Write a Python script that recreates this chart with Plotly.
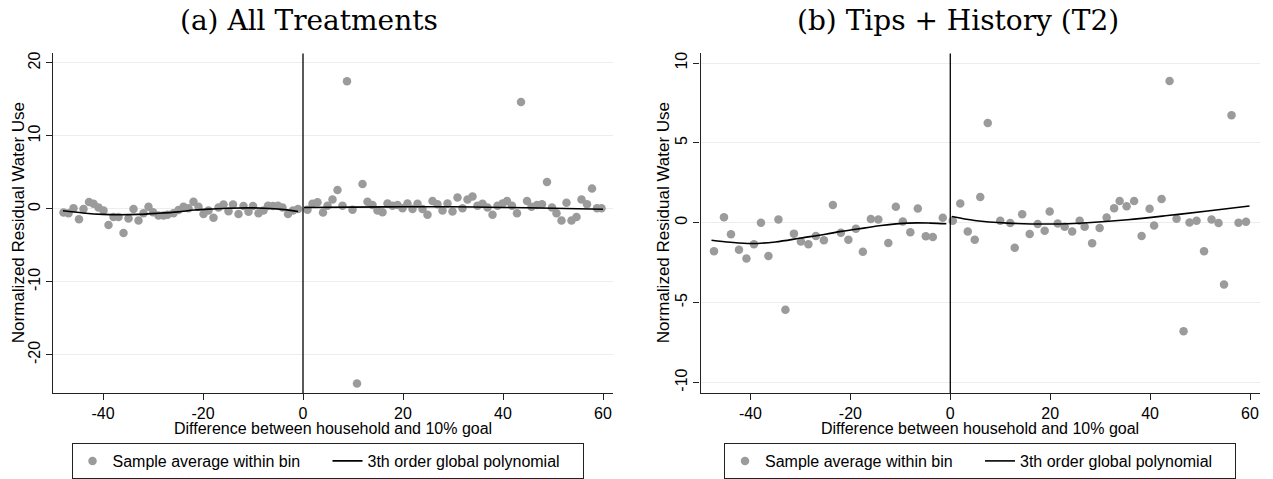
import plotly.graph_objects as go

# ---------------- data: panel (a) All Treatments ----------------
a_x = [-47.9, -46.9, -45.9, -44.8, -43.9, -42.8, -41.9, -40.9, -39.9, -38.9,
       -37.9, -36.9, -35.9, -34.9, -33.9, -32.9, -31.9, -30.9, -30.0, -28.9,
       -27.9, -27.1, -25.9, -24.9, -23.9, -22.9, -21.9, -20.9, -19.9, -18.9,
       -17.9, -16.9, -15.9, -14.9, -14.0, -12.9, -11.9, -10.9, -10.0, -8.9,
       -7.9, -7.0, -6.0, -5.0, -4.1, -3.0, -2.0, -1.0,
       0.9, 1.9, 2.9, 4.0, 4.9, 5.9, 6.9, 7.9, 8.8, 9.9,
       10.8, 11.9, 12.9, 13.9, 14.9, 15.9, 16.9, 17.9, 18.9, 19.9,
       20.9, 21.9, 22.9, 23.9, 24.9, 25.9, 26.9, 27.9, 28.9, 29.9,
       30.9, 31.9, 32.9, 33.9, 34.9, 35.9, 36.9, 37.9, 38.9, 39.9,
       40.8, 41.8, 42.8, 43.6, 44.8, 45.7, 46.8, 47.8, 48.8, 49.8,
       50.7, 51.7, 52.7, 53.7, 54.7, 55.7, 56.8, 57.8, 58.8, 59.7]
a_y = [-0.5, -0.6, 0.1, -1.4, 0.0, 0.95, 0.7, 0.2, -0.2, -2.2,
       -1.1, -1.1, -3.3, -1.3, 0.0, -1.6, -0.6, 0.3, -0.45, -0.9,
       -0.9, -0.8, -0.6, -0.15, 0.3, 0.1, 1.0, 0.3, -0.7, -0.2,
       -1.2, 0.2, 0.6, -0.3, 0.6, -0.7, 0.4, -0.4, 0.4, -0.6,
       -0.2, 0.45, 0.4, 0.45, 0.2, -0.7, -0.2, 0.0,
       -0.1, 0.7, 0.9, -0.5, 0.45, 1.3, 2.6, 0.45, 17.5, -0.1,
       -23.9, 3.4, 1.0, 0.55, -0.2, -0.45, 0.75, 0.45, 0.55, 0.1,
       0.75, 0.0, 0.7, 0.0, -0.8, 1.1, 0.65, -0.2, 0.75, -0.35,
       1.55, 0.1, 1.3, 1.7, 0.45, 0.7, 0.2, -0.8, 0.45, 0.75,
       1.1, 0.45, -0.6, 14.65, 1.1, 0.3, 0.55, 0.65, 3.7, 0.2,
       -0.6, -1.6, 0.85, -1.6, -1.1, 1.3, 0.65, 2.8, 0.1, 0.1]
# fitted 3rd order polynomial (left / right of cutoff)
a_fit_left_x = [-48, -44, -40, -37, -33, -29, -25, -21.7, -18, -15, -11, -7.7, -3.7, -1]
a_fit_left_y = [-0.25, -0.55, -0.75, -0.8, -0.75, -0.6, -0.4, -0.15, 0.0, 0.1, 0.15, 0.1, -0.1, -0.35]
a_fit_right_x = [0.2, 10, 20, 30, 40, 50, 60]
a_fit_right_y = [0.2, 0.25, 0.3, 0.3, 0.2, 0.1, -0.05]

# ---------------- data: panel (b) Tips + History (T2) ----------------
b_x = [-47.3, -45.3, -43.9, -42.3, -40.8, -39.3, -37.9, -36.4, -34.4, -33.0,
       -31.3, -29.9, -28.4, -26.9, -25.3, -23.5, -21.9, -20.4, -18.9, -17.5,
       -15.9, -14.4, -12.4, -10.9, -9.5, -8.0, -6.5, -4.9, -3.5, -1.5,
       0.5, 2.0, 3.5, 4.9, 6.0, 7.5, 10.0, 12.0, 12.9, 14.4,
       15.9, 17.5, 18.9, 19.9, 21.5, 22.9, 24.4, 25.9, 26.9, 28.4,
       29.9, 31.3, 32.8, 33.9, 35.3, 36.8, 38.3, 39.9, 40.8, 42.3,
       43.9, 45.3, 46.7, 47.9, 49.3, 50.8, 52.3, 53.7, 54.8, 56.3,
       57.7, 59.2]
b_y = [-1.78, 0.35, -0.72, -1.69, -2.23, -1.34, 0.0, -2.08, 0.2, -5.45,
       -0.68, -1.18, -1.34, -0.83, -1.09, 1.11, -0.62, -1.07, -0.37, -1.82,
       0.23, 0.21, -1.26, 1.01, 0.08, -0.6, 0.89, -0.85, -0.89, 0.31,
       0.12, 1.2, -0.54, -1.07, 1.61, 6.24, 0.12, -0.02, -1.57, 0.54,
       -0.7, -0.08, -0.5, 0.7, -0.04, -0.25, -0.54, 0.12, -0.25, -1.28,
       -0.33, 0.33, 0.91, 1.36, 1.03, 1.36, -0.83, 0.87, -0.17, 1.49,
       8.87, 0.25, -6.79, 0.02, 0.12, -1.78, 0.21, -0.02, -3.86, 6.73,
       0.0, 0.06]
b_fit_left_x = [-47.8, -44, -39.8, -35, -29.8, -25, -21.8, -17, -13.8, -8.5, -4, -0.8]
b_fit_left_y = [-1.09, -1.22, -1.3, -1.2, -0.95, -0.72, -0.54, -0.32, -0.17, -0.02, -0.02, -0.06]
b_fit_right_x = [0.3, 4.9, 11.5, 20.2, 28.2, 35.5, 43.5, 51.5, 59.9]
b_fit_right_y = [0.39, 0.14, -0.02, -0.08, 0.02, 0.19, 0.45, 0.74, 1.05]

titles = ["(a) All Treatments", "(b) Tips + History (T2)"]
x_title = "Difference between household and 10% goal"
y_title = "Normalized Residual Water Use"
x_ticks = [-40, -20, 0, 20, 40, 60]
a_yticks = [-20, -10, 0, 10, 20]
b_yticks = [-10, -5, 0, 5, 10]
legend_names = ["Sample average within bin", "3th order global polynomial"]

# ---------------- styling ----------------
W, H = 1273, 479
FONT = "Liberation Sans, Arial, Helvetica, sans-serif"
DOT = "#9b9b9b"
GRID = "#e7eff1"
ydom = [1 - 395 / H, 1 - 52 / H]
xdom1 = [53 / W, 613 / W]
xdom2 = [700.5 / W, 1260 / W]

fig = go.Figure()

def add_panel(xs, ys, fl_x, fl_y, fr_x, fr_y, xa, ya, leg):
    fig.add_trace(go.Scatter(x=xs, y=ys, mode="markers", name=legend_names[0],
                             marker=dict(color=DOT, size=8.5, line=dict(width=0)),
                             xaxis=xa, yaxis=ya, legend=leg, showlegend=True))
    fig.add_trace(go.Scatter(x=fl_x + [None] + fr_x, y=fl_y + [None] + fr_y,
                             mode="lines", name=legend_names[1],
                             line=dict(color="black", width=1.6, shape="spline"),
                             connectgaps=False,
                             xaxis=xa, yaxis=ya, legend=leg, showlegend=True))

add_panel(a_x, a_y, a_fit_left_x, a_fit_left_y, a_fit_right_x, a_fit_right_y, "x", "y", "legend")
add_panel(b_x, b_y, b_fit_left_x, b_fit_left_y, b_fit_right_x, b_fit_right_y, "x2", "y2", "legend2")

def labels(vals):
    return [str(v) for v in vals]  # plain hyphen minus, as in the original

xcommon = dict(range=[-50, 62], tickvals=x_ticks, ticktext=labels(x_ticks),
               showgrid=False, zeroline=False,
               showline=True, linecolor="#222", linewidth=1.2, ticks="outside",
               ticklen=6, tickcolor="#222", tickfont=dict(family=FONT, size=16, color="black"))
ycommon = dict(showgrid=True, gridcolor=GRID, gridwidth=1, zeroline=False,
               showline=True, linecolor="#222", linewidth=1.2, ticks="outside",
               ticklen=6, tickcolor="#222", tickangle=-90,
               tickfont=dict(family=FONT, size=16, color="black"))

legcommon = dict(orientation="h", xanchor="center", y=1 - 446 / H, yanchor="top",
                 bordercolor="#222", borderwidth=1, bgcolor="white",
                 font=dict(family=FONT, size=16), entrywidth=210,
                 entrywidthmode="pixels", itemsizing="trace")

fig.update_layout(
    width=W, height=H,
    margin=dict(l=0, r=0, t=0, b=0),
    paper_bgcolor="white", plot_bgcolor="white",
    font=dict(family=FONT, size=16, color="black"),
    xaxis=dict(domain=xdom1, anchor="y", **xcommon),
    yaxis=dict(domain=ydom, anchor="x", range=[-25.2, 21.3], tickvals=a_yticks,
               ticktext=labels(a_yticks), **ycommon),
    xaxis2=dict(domain=xdom2, anchor="y2", **xcommon),
    yaxis2=dict(domain=ydom, anchor="x2", range=[-10.65, 10.6], tickvals=b_yticks,
                ticktext=labels(b_yticks), **ycommon),
    legend=dict(x=(71 + 584) / 2 / W, **legcommon),
    legend2=dict(x=(722 + 1238) / 2 / W, **legcommon),
)

# vertical reference line at the cutoff (x = 0)
for xr, yr in [("x", "y domain"), ("x2", "y2 domain")]:
    fig.add_shape(type="line", xref=xr, yref=yr, x0=0, x1=0, y0=0, y1=1,
                  line=dict(color="black", width=1.3), layer="above")

# titles
for i, (tx, cx) in enumerate([(309, (53 + 613) / 2), (958, (700.5 + 1260) / 2)]):
    fig.add_annotation(text=titles[i], xref="paper", yref="paper", x=tx / W, y=1 - 19 / H,
                       xanchor="center", yanchor="middle", showarrow=False,
                       font=dict(family="DejaVu Serif, serif", size=28, color="black"))
    fig.add_annotation(text=x_title, xref="paper", yref="paper", x=cx / W, y=1 - 431 / H,
                       xanchor="center", yanchor="middle", showarrow=False,
                       font=dict(family=FONT, size=16, color="black"))
for yx in [18, 663]:
    fig.add_annotation(text=y_title, xref="paper", yref="paper", x=yx / W,
                       y=(ydom[0] + ydom[1]) / 2, xanchor="center", yanchor="middle",
                       textangle=-90, showarrow=False,
                       font=dict(family=FONT, size=17, color="black"))

fig.write_html("out.html", config={"displayModeBar": False},
               post_script="document.body.style.margin='0';document.body.style.overflow='hidden';")
